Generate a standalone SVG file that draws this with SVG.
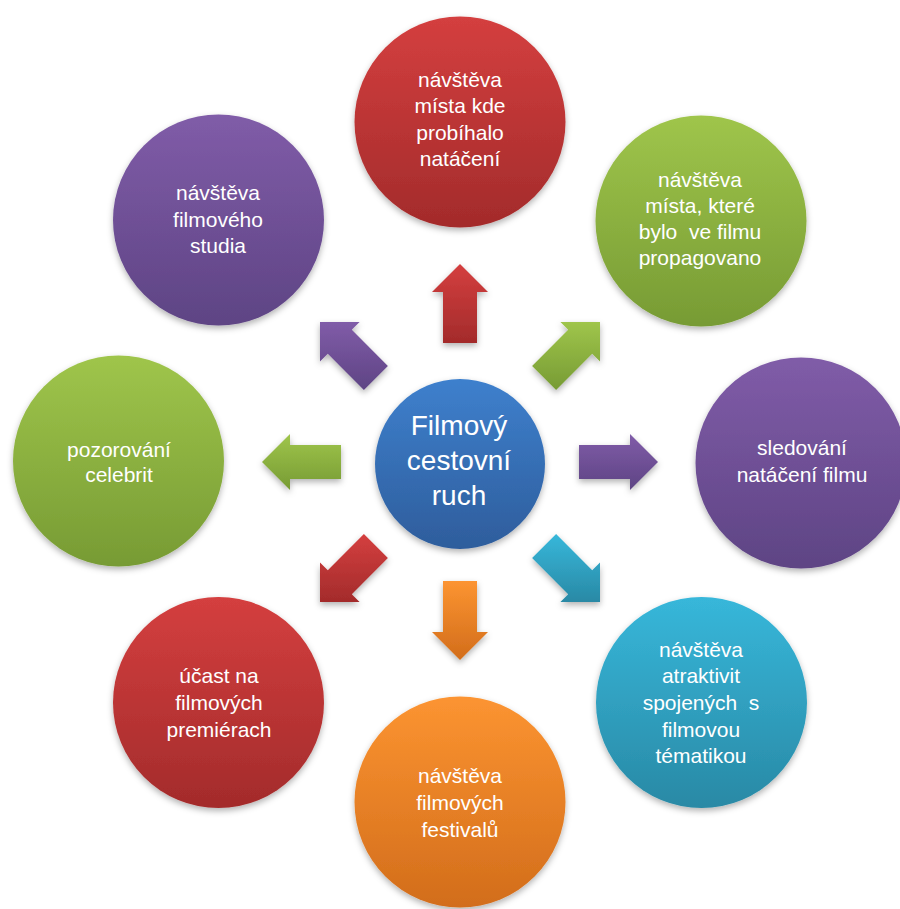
<svg xmlns="http://www.w3.org/2000/svg" width="900" height="909" viewBox="0 0 900 909">
<defs>
<linearGradient id="gRed" x1="0" y1="0" x2="0" y2="1"><stop offset="0" stop-color="#d43f3f"/><stop offset="1" stop-color="#a32b2b"/></linearGradient>
<linearGradient id="gGreen" x1="0" y1="0" x2="0" y2="1"><stop offset="0" stop-color="#9fc54b"/><stop offset="1" stop-color="#779b34"/></linearGradient>
<linearGradient id="gPurple" x1="0" y1="0" x2="0" y2="1"><stop offset="0" stop-color="#805ca8"/><stop offset="1" stop-color="#5e4484"/></linearGradient>
<linearGradient id="gBlue" x1="0" y1="0" x2="0" y2="1"><stop offset="0" stop-color="#3e80cd"/><stop offset="1" stop-color="#2e5d9c"/></linearGradient>
<linearGradient id="gTeal" x1="0" y1="0" x2="0" y2="1"><stop offset="0" stop-color="#37b7da"/><stop offset="1" stop-color="#2989a5"/></linearGradient>
<linearGradient id="gOrange" x1="0" y1="0" x2="0" y2="1"><stop offset="0" stop-color="#fc9431"/><stop offset="1" stop-color="#d26d1b"/></linearGradient>
<filter id="sh" x="-20%" y="-20%" width="140%" height="150%">
<feDropShadow dx="0" dy="3" stdDeviation="3" flood-color="#000" flood-opacity="0.3"/>
</filter>
</defs>
<style>
.c{filter:url(#sh)}
.a{filter:url(#sh)}
.t{font-family:"Liberation Sans",Arial,sans-serif;font-size:21px;fill:#ffffff;text-anchor:middle}
.tc{font-family:"Liberation Sans",Arial,sans-serif;font-size:28px;fill:#ffffff;text-anchor:middle}
</style>
<rect width="900" height="909" fill="#ffffff"/>

<g id="connectors">
<polygon class="a" fill="url(#gRed)" points="460,264 488,292 477,292 477,343 443,343 443,292 432,292"/>
<polygon class="a" fill="url(#gOrange)" points="460,660 432,632 443,632 443,581 477,581 477,632 488,632"/>
<polygon class="a" fill="url(#gGreen)" points="262,462 290,434 290,445 341,445 341,479 290,479 290,490"/>
<polygon class="a" fill="url(#gPurple)" points="658,462 630,434 630,445 579,445 579,479 630,479 630,490"/>
<polygon class="a" fill="url(#gPurple)" points="320,322 359.6,322 351.8,329.8 387.9,365.9 363.9,389.9 327.8,353.8 320,361.6"/>
<polygon class="a" fill="url(#gGreen)" points="600,322 560.4,322 568.2,329.8 532.1,365.9 556.1,389.9 592.2,353.8 600,361.6"/>
<polygon class="a" fill="url(#gRed)" points="320,602 359.6,602 351.8,594.2 387.9,558.1 363.9,534.1 327.8,570.2 320,562.4"/>
<polygon class="a" fill="url(#gTeal)" points="600,602 560.4,602 568.2,594.2 532.1,558.1 556.1,534.1 592.2,570.2 600,562.4"/>
</g>

<g id="center">
<circle class="c" cx="460" cy="464" r="85" fill="url(#gBlue)"/>
<text class="tc" x="459" y="435">Filmový</text>
<text class="tc" x="459" y="470">cestovní</text>
<text class="tc" x="459" y="505">ruch</text>
</g>

<g id="n-top">
<circle class="c" cx="460" cy="122" r="105.5" fill="url(#gRed)"/>
<text class="t" x="460" y="87">návštěva</text>
<text class="t" x="460" y="113">místa kde</text>
<text class="t" x="460" y="140">probíhalo</text>
<text class="t" x="460" y="166">natáčení</text>
</g>

<g id="n-topright">
<circle class="c" cx="701" cy="221" r="105.5" fill="url(#gGreen)"/>
<text class="t" x="700" y="187">návštěva</text>
<text class="t" x="700" y="213">místa, které</text>
<text class="t" x="700" y="239" xml:space="preserve">bylo  ve filmu</text>
<text class="t" x="700" y="265">propagovano</text>
</g>

<g id="n-right">
<circle class="c" cx="801" cy="463" r="105.5" fill="url(#gPurple)"/>
<text class="t" x="802" y="455">sledování</text>
<text class="t" x="802" y="482">natáčení filmu</text>
</g>

<g id="n-bottomright">
<circle class="c" cx="701.5" cy="702.5" r="105.5" fill="url(#gTeal)"/>
<text class="t" x="701" y="657">návštěva</text>
<text class="t" x="701" y="683">atraktivit</text>
<text class="t" x="701" y="710" xml:space="preserve">spojených  s</text>
<text class="t" x="701" y="737">filmovou</text>
<text class="t" x="701" y="763">tématikou</text>
</g>

<g id="n-bottom">
<circle class="c" cx="460" cy="802" r="105.5" fill="url(#gOrange)"/>
<text class="t" x="460" y="783">návštěva</text>
<text class="t" x="460" y="810">filmových</text>
<text class="t" x="460" y="837">festivalů</text>
</g>

<g id="n-bottomleft">
<circle class="c" cx="218.5" cy="702.5" r="105.5" fill="url(#gRed)"/>
<text class="t" x="219" y="683">účast na</text>
<text class="t" x="219" y="710">filmových</text>
<text class="t" x="219" y="737">premiérach</text>
</g>

<g id="n-left">
<circle class="c" cx="118.5" cy="461" r="105.5" fill="url(#gGreen)"/>
<text class="t" x="119" y="457">pozorování</text>
<text class="t" x="119" y="482">celebrit</text>
</g>

<g id="n-topleft">
<circle class="c" cx="218.5" cy="220" r="105.5" fill="url(#gPurple)"/>
<text class="t" x="218" y="200">návštěva</text>
<text class="t" x="218" y="227">filmového</text>
<text class="t" x="218" y="253">studia</text>
</g>
</svg>
